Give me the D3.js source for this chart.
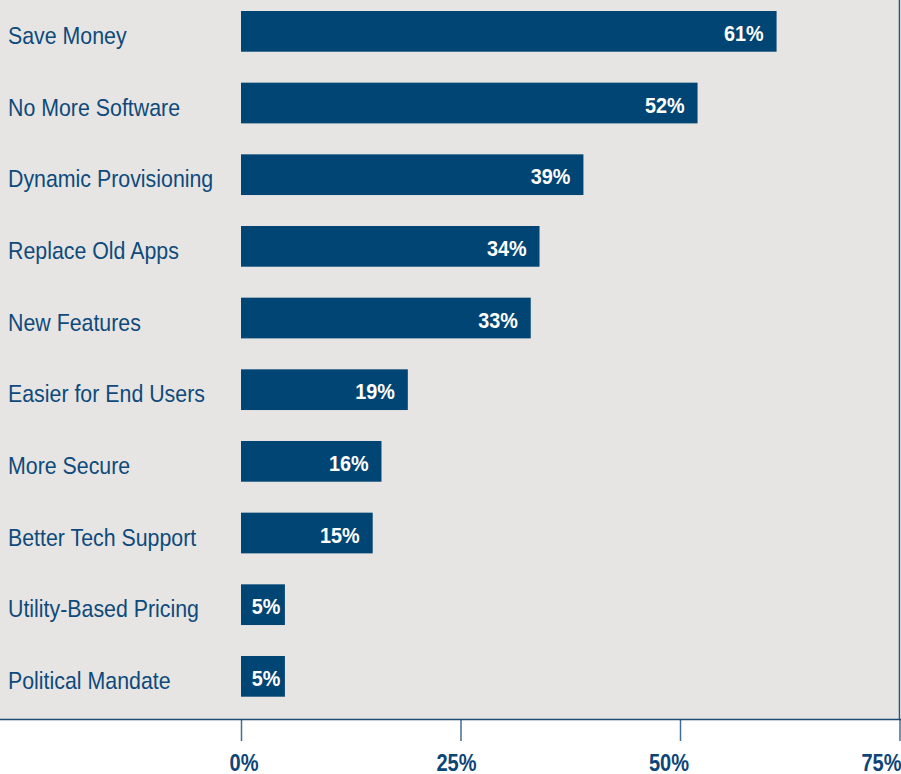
<!DOCTYPE html>
<html>
<head>
<meta charset="utf-8">
<script src="https://cdn.jsdelivr.net/npm/d3@7"></script>
<style>
  html, body { margin: 0; padding: 0; background: #ffffff; }
  svg { display: block; }
</style>
</head>
<body>
<svg id="chart" width="901" height="774"></svg>
<script>
// Reasons given for adoption, share of respondents (%)
const categories = [
  "Save Money",
  "No More Software",
  "Dynamic Provisioning",
  "Replace Old Apps",
  "New Features",
  "Easier for End Users",
  "More Secure",
  "Better Tech Support",
  "Utility-Based Pricing",
  "Political Mandate"
];
const values = [61, 52, 39, 34, 33, 19, 16, 15, 5, 5];
const tickValues = [0, 25, 50, 75];
const tickLabels = ["0%", "25%", "50%", "75%"];

const W = 901, H = 774;
const panelBottom = 719;
// a regular sans squeezed horizontally gives the narrow face
const fontFamily = "'Liberation Sans', Arial, sans-serif";
const narrow = 0.89;
const navy = "#004574";
const labelBlue = "#0e4a7b";

const svg = d3.select("#chart");

const x = d3.scaleLinear().domain([0, 75]).range([241, 899.5]);
const y = d3.scaleBand()
  .domain(categories)
  .range([11, 696.7])
  .paddingInner(0.432)
  .paddingOuter(0);

// grey panel behind the bars
svg.append("rect")
  .attr("x", 0).attr("y", 0)
  .attr("width", x(75)).attr("height", panelBottom)
  .attr("fill", "#e6e5e3");

// right edge of the panel
svg.append("line")
  .attr("x1", x(75)).attr("x2", x(75))
  .attr("y1", 0).attr("y2", panelBottom)
  .attr("stroke", "#2a5680").attr("stroke-width", 1.5);

const data = categories.map((c, i) => ({ cat: c, value: values[i] }));

// bars
svg.append("g").selectAll("rect")
  .data(data)
  .join("rect")
  .attr("x", x(0))
  .attr("y", d => y(d.cat))
  .attr("width", d => x(d.value) - x(0))
  .attr("height", y.bandwidth())
  .attr("fill", navy);

// category labels
svg.append("g").selectAll("text")
  .data(data)
  .join("text")
  .attr("transform", d => `translate(8,${y(d.cat) + y.bandwidth() / 2 + 12.5}) scale(${narrow},1)`)
  .attr("fill", labelBlue)
  .attr("font-family", fontFamily)
  .attr("font-size", 24)
  .text(d => d.cat);

// value labels inside the bars: right-aligned, or centred when the bar is short
svg.append("g").selectAll("text")
  .data(data)
  .join("text")
  .attr("transform", d => {
    const w = x(d.value) - x(0);
    const tx = w < 60 ? x(0) + w / 2 + 3 : x(d.value) - 13;
    return `translate(${tx},${y(d.cat) + y.bandwidth() / 2 + 9.5}) scale(0.9,1)`;
  })
  .attr("text-anchor", d => (x(d.value) - x(0) < 60 ? "middle" : "end"))
  .attr("fill", "#ffffff")
  .attr("font-family", fontFamily)
  .attr("font-weight", "bold")
  .attr("font-size", 22)
  .text(d => d.value + "%");

// x axis
const axis = d3.axisBottom(x)
  .tickValues(tickValues)
  .tickFormat((d, i) => tickLabels[i])
  .tickSize(22)
  .tickSizeOuter(0);

const gAxis = svg.append("g")
  .attr("transform", `translate(0,${panelBottom})`)
  .call(axis);

gAxis.select(".domain").remove();
gAxis.append("line")
  .attr("x1", 0).attr("x2", W)
  .attr("y1", 0.5).attr("y2", 0.5)
  .attr("stroke", "#1d4a73").attr("stroke-width", 1.5);

gAxis.selectAll(".tick line")
  .attr("stroke", "#426d94")
  .attr("stroke-width", 1.5);

// tick label positions drift slightly left of their ticks
const labelX = d3.scaleLinear().domain([0, 75]).range([243.5, 881]);
gAxis.selectAll(".tick text")
  .attr("x", null)
  .attr("y", null)
  .attr("dy", null)
  .attr("transform", d => `translate(${labelX(d) - x(d)},52) scale(0.87,1)`)
  .attr("fill", "#0d4577")
  .attr("font-family", fontFamily)
  .attr("font-weight", "bold")
  .attr("font-size", 23);
</script>
</body>
</html>
